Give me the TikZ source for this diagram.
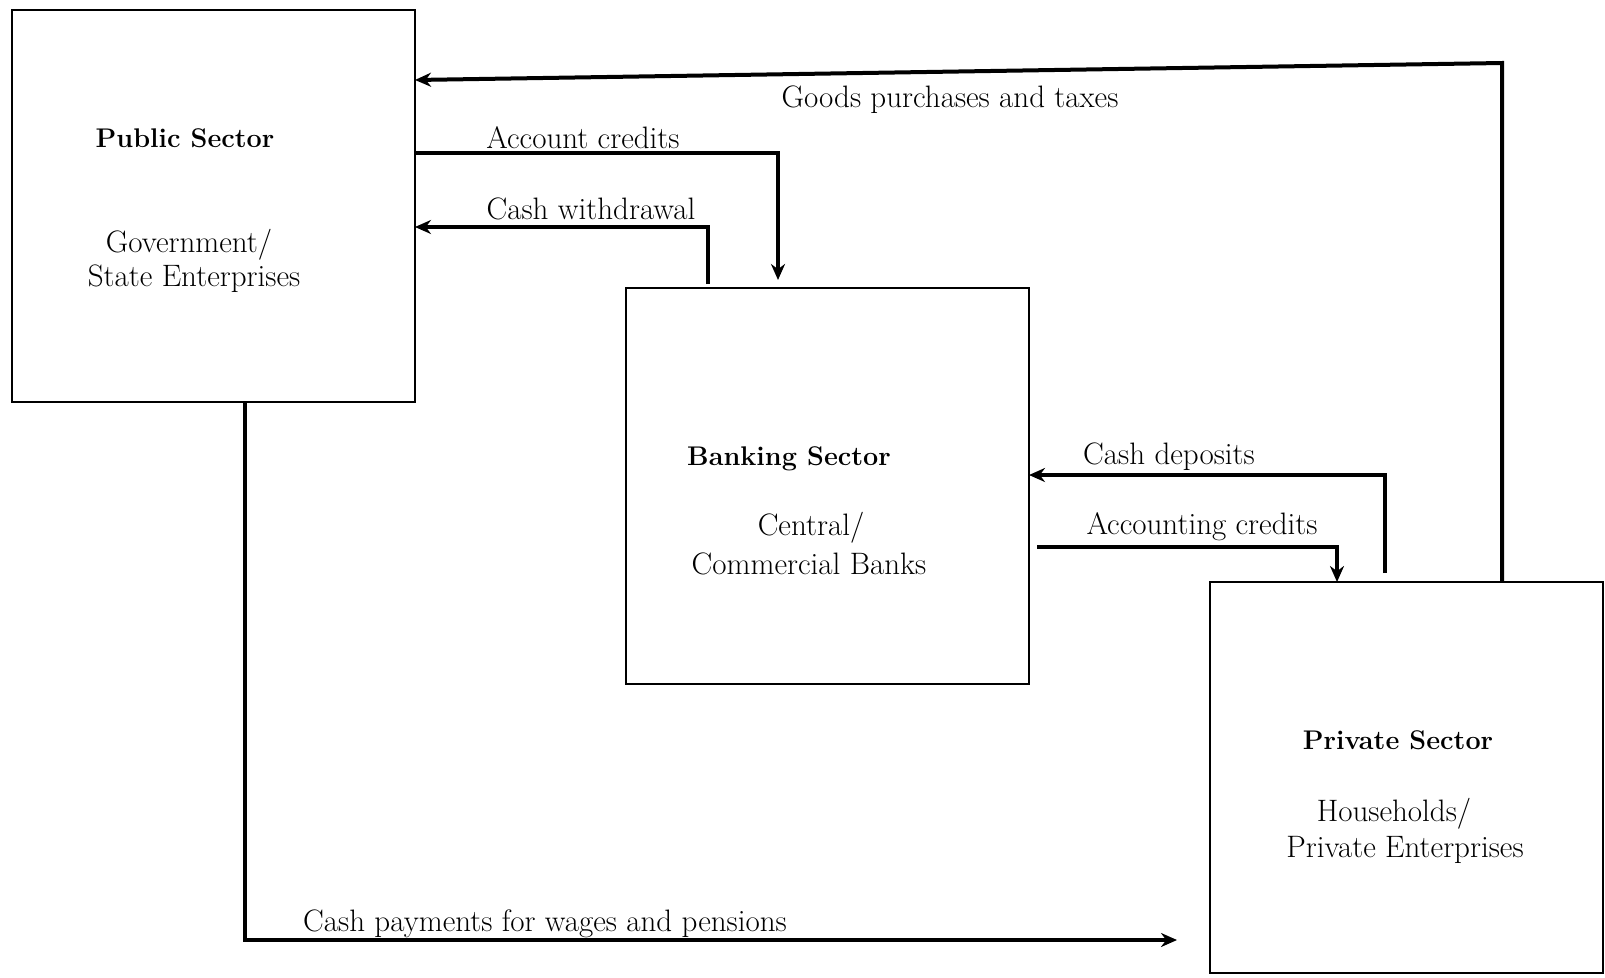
\documentclass[tikz,border=0pt]{standalone}
\usetikzlibrary{arrows.meta}
\begin{document}
\begin{tikzpicture}[x=1pt,y=-1pt,
  box/.style={draw=black,line width=2.8pt,inner sep=0pt,outer sep=0pt},
  flow/.style={draw=black,line width=4pt,-{Stealth[length=16pt,width=14pt]}},
  lbl/.style={font=\fontsize{31}{36}\selectfont,inner sep=0pt},
  ttl/.style={font=\fontsize{27}{32}\selectfont\bfseries,inner sep=0pt}]
\useasboundingbox (0,0) rectangle (1605,977);
% boxes
\node[box,minimum width=403pt,minimum height=392pt] (public) at (213.5,206) {};
\node[box,minimum width=403pt,minimum height=396pt] (bank) at (827.5,486) {};
\node[box,minimum width=393pt,minimum height=391pt] (priv) at (1406.5,777.5) {};
% box texts
\node[ttl] (pubt) at (185,138) {Public Sector};
\node[lbl] (pub1) at (189,245) {Government/};
\node[lbl] (pub2) at (194,279) {State Enterprises};
\node[ttl] (bankt) at (789,459) {Banking Sector};
\node[lbl] (bank1) at (811,528) {Central/};
\node[lbl] (bank2) at (809,564) {Commercial Banks};
\node[ttl] (privt) at (1398,740) {Private Sector};
\node[lbl] (priv1) at (1394,814) {Households/};
\node[lbl] (priv2) at (1405,850) {Private Enterprises};
% corner coordinates
\coordinate (g1) at (1502,63);
\coordinate (g2) at (415,80);
\coordinate (a1) at (778,153);
\coordinate (w1) at (708,227);
\coordinate (d1) at (1385,475);
\coordinate (c1) at (1337,547);
\coordinate (p1) at (245,940);
\coordinate (p2) at (1177,940);
% connectors
\draw[flow] (priv.north -| g1) -- (g1) -- (public.east |- g2);
\draw[flow,shorten >=8pt] (public.east |- a1) -| (bank.north -| a1);
\draw[flow,shorten <=4pt] (bank.north -| w1) |- (public.east |- w1);
\draw[flow,shorten <=9pt] (priv.north -| d1) |- (bank.east |- d1);
\draw[flow,shorten <=8pt] (bank.east |- c1) -| (priv.north -| c1);
\draw[flow] (public.south -| p1) |- (p2);
% connector labels
\node[lbl] (lg) at (950,100) {Goods purchases and taxes};
\node[lbl] (la) at (583,138) {Account credits};
\node[lbl] (lw) at (591,209) {Cash withdrawal};
\node[lbl] (ld) at (1169,457) {Cash deposits};
\node[lbl] (lc) at (1202,527) {Accounting credits};
\node[lbl] (lp) at (545,924) {Cash payments for wages and pensions};
\end{tikzpicture}
\end{document}
